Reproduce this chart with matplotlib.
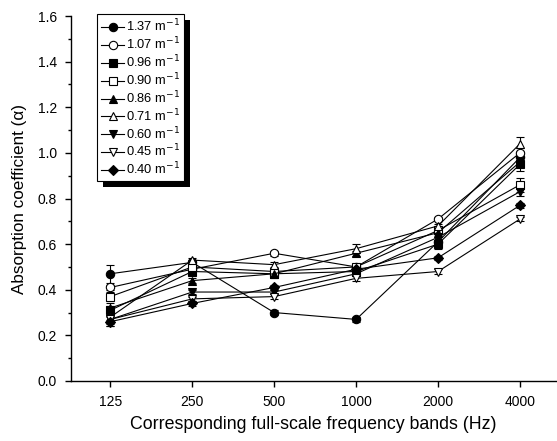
import matplotlib
matplotlib.use("Agg")
import matplotlib.pyplot as plt
from matplotlib.patches import Rectangle
from matplotlib.lines import Line2D
from matplotlib.ticker import MultipleLocator
import numpy as np

plt.rcParams['font.family'] = ['Liberation Sans', 'DejaVu Sans']

bands = ["125", "250", "500", "1000", "2000", "4000"]
labels = ["1.37", "1.07", "0.96", "0.90", "0.86", "0.71", "0.60", "0.45", "0.40"]
markers = ["o", "o", "s", "s", "^", "^", "v", "v", "D"]
filled = [True, False, True, False, True, False, True, False, True]

s137 = [0.47, 0.52, 0.30, 0.27, 0.61, 0.98]
s107 = [0.41, 0.49, 0.56, 0.50, 0.71, 1.00]
s096 = [0.31, 0.48, 0.47, 0.48, 0.60, 0.95]
s090 = [0.37, 0.50, 0.48, 0.50, 0.66, 0.86]
s086 = [0.32, 0.44, 0.47, 0.56, 0.65, 0.96]
s071 = [0.28, 0.53, 0.51, 0.58, 0.68, 1.04]
s060 = [0.27, 0.39, 0.39, 0.47, 0.63, 0.83]
s045 = [0.27, 0.36, 0.37, 0.45, 0.48, 0.71]
s040 = [0.26, 0.34, 0.41, 0.49, 0.54, 0.77]
series = [s137, s107, s096, s090, s086, s071, s060, s045, s040]

e137 = [0.04, 0.01, 0.01, 0.01, 0.01, 0.02]
e107 = [0.01, 0.01, 0.01, 0.01, 0.01, 0.02]
e096 = [0.02, 0.01, 0.01, 0.01, 0.02, 0.03]
e090 = [0.02, 0.01, 0.01, 0.01, 0.01, 0.03]
e086 = [0.02, 0.01, 0.01, 0.01, 0.02, 0.02]
e071 = [0.02, 0.01, 0.01, 0.02, 0.01, 0.03]
e060 = [0.02, 0.01, 0.01, 0.01, 0.02, 0.02]
e045 = [0.03, 0.01, 0.01, 0.01, 0.01, 0.01]
e040 = [0.02, 0.01, 0.01, 0.01, 0.01, 0.01]
errors = [e137, e107, e096, e090, e086, e071, e060, e045, e040]

fig = plt.figure(figsize=(5.57, 4.41), dpi=100)
ax = fig.add_axes([71/557, 1 - 381/441, (556 - 71)/557, (381 - 16)/441])

x = np.arange(len(bands))
handles = []
for lab, m, f, y, e in zip(labels, markers, filled, series, errors):
    ms = 5.5 if m == "D" else 6
    fc = 'black' if f else 'white'
    ax.errorbar(x, y, yerr=e, color='black', lw=0.8, marker=m, ms=ms,
                mfc=fc, mec='black', mew=0.8,
                capsize=3, elinewidth=0.8, capthick=0.8)
    handles.append(Line2D([], [], color='black', lw=0.8, marker=m, ms=ms,
                          mfc=fc, mec='black', mew=0.8, label=lab + " m$^{-1}$"))

ax.set_xlim(-0.48, 5.44)
ax.set_ylim(0, 1.6)
ax.set_xticks(x)
ax.set_xticklabels(bands)
ax.yaxis.set_major_locator(MultipleLocator(0.2))
ax.yaxis.set_minor_locator(MultipleLocator(0.1))
ax.yaxis.set_major_formatter(matplotlib.ticker.FormatStrFormatter('%.1f'))
for s in ['top', 'right']:
    ax.spines[s].set_visible(False)
for s in ['left', 'bottom']:
    ax.spines[s].set_linewidth(1.0)
ax.tick_params(axis='both', which='major', direction='out', length=4, width=1,
               labelsize=10, pad=6)
ax.tick_params(axis='y', which='minor', direction='out', length=2.5, width=1)
ax.set_xlabel("Corresponding full-scale frequency bands (Hz)", fontsize=12.8, labelpad=5)
ax.set_ylabel("Absorption coefficient (α)", fontsize=12.3, labelpad=8)

leg = ax.legend(handles=handles, loc='upper left', bbox_to_anchor=(97/557, 1 - 14/441),
                bbox_transform=fig.transFigure, frameon=True, fancybox=False,
                edgecolor='black', facecolor='white', framealpha=1,
                fontsize=9.3, labelspacing=0.1, handlelength=1.8,
                handletextpad=0.15, borderpad=0.3, borderaxespad=0)
leg.get_frame().set_linewidth(0.8)
leg.set_zorder(10)

fig.canvas.draw()
bb = leg.get_window_extent().transformed(fig.transFigure.inverted())
off_x, off_y = 6/557, 6/441
shadow = Rectangle((bb.x0 + off_x, bb.y0 - off_y), bb.width, bb.height,
                   transform=fig.transFigure, facecolor='black', edgecolor='none',
                   zorder=9, clip_on=False)
ax.add_patch(shadow)
fig.savefig("out.png", dpi=100)
